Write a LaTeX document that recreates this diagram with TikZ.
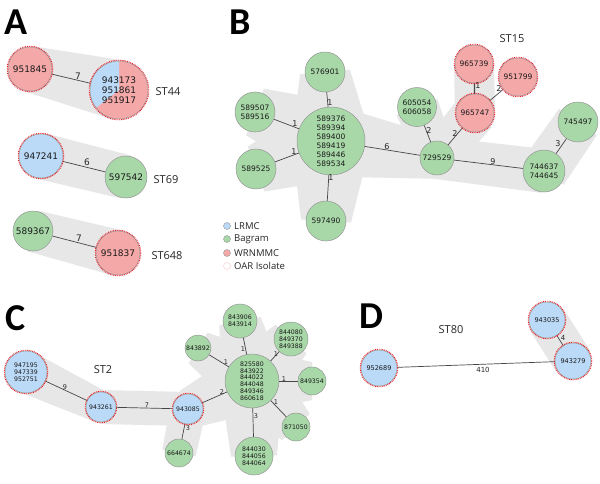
\documentclass[tikz,border=0pt]{standalone}
\usepackage{fontspec}
\setmainfont{DejaVu Sans}
\newfontfamily\osans{Open Sans}
\newfontfamily\pfont{Carlito}
\usetikzlibrary{calc,backgrounds}
\definecolor{lrmc}{RGB}{187,218,248}
\definecolor{bag}{RGB}{168,216,168}
\definecolor{wrn}{RGB}{245,168,168}
\definecolor{shadowgrey}{RGB}{231,231,231}
\definecolor{nborder}{RGB}{150,150,150}
\definecolor{oarred}{RGB}{235,30,40}
\definecolor{oarpink}{RGB}{250,200,200}
\definecolor{edgec}{RGB}{70,70,70}
\tikzset{
 nd/.style={circle, draw=nborder, line width=0.5pt, inner sep=0pt, align=center, text=black!90},
 lr/.style={nd, fill=lrmc},
 bg/.style={nd, fill=bag},
 wr/.style={nd, fill=wrn},
 fa/.style={font=\fontsize{9}{10}\selectfont},
 fb/.style={font=\fontsize{7.5}{9}\selectfont},
 fc/.style={font=\fontsize{6.2}{6.8}\selectfont},
 fd/.style={font=\fontsize{6.5}{7}\selectfont},
 edge/.style={draw=edgec, line width=0.7pt},
 ela/.style={inner sep=0pt, text=black!85, font=\fontsize{9}{9}\selectfont},
 elb/.style={inner sep=0pt, text=black!85, font=\fontsize{8}{8}\selectfont},
 elc/.style={inner sep=0pt, text=black!85, font=\fontsize{6.5}{6.5}\selectfont},
 eld/.style={inner sep=0pt, text=black!85, font=\fontsize{7}{7}\selectfont},
 stlab/.style={inner sep=0pt, font=\osans\fontsize{11}{12}\selectfont, text=black!85},
 leglab/.style={inner sep=0pt, anchor=west, font=\osans\fontsize{9.5}{10}\selectfont, text=black!85},
 legdot/.style={circle, draw=nborder, line width=0.4pt, minimum size=7pt, inner sep=0pt},
 panel/.style={inner sep=0pt, font=\pfont\bfseries\fontsize{38}{38}\selectfont},
 oarring/.style={draw=oarred, line width=0.9pt, dash pattern=on 0.9pt off 0.9pt},
}
% tapered shadow band between two node centres, half-widths #2 and #4
\newcommand{\band}[4]{%
 \fill[shadowgrey] ($(#1.center)!#2pt!90:(#3.center)$) -- ($(#3.center)!#4pt!-90:(#1.center)$) -- ($(#3.center)!#4pt!90:(#1.center)$) -- ($(#1.center)!#2pt!-90:(#3.center)$) -- cycle;}
\begin{document}
\begin{tikzpicture}[x=1pt,y=-1pt]
\useasboundingbox (0,0) rectangle (600,483);
% ---------- Panel A
\node[panel] (pA) at (16,22) {A};
\node[wr, fa, minimum size=44pt] (a1) at (30,69) {951845};
\node[wr, fa, minimum size=58pt, path picture={\fill[lrmc] (path picture bounding box.center) -- ++(90:32pt) arc[start angle=90, end angle=218, radius=32pt] -- cycle;}] (a2) at (119,90) {943173\\951861\\951917};
\node[lr, fa, minimum size=44pt] (a3) at (41,156) {947241};
\node[bg, fa, minimum size=42pt] (a4) at (126,177) {597542};
\node[bg, fa, minimum size=40pt] (a5) at (33,231) {589367};
\node[wr, fa, minimum size=44pt] (a6) at (118,253) {951837};
\draw[edge] (a1) -- (a2);
\draw[edge] (a3) -- (a4);
\draw[edge] (a5) -- (a6);
\node[ela] (la1) at (78,76) {7};
\node[ela] (la2) at (87,162) {6};
\node[ela] (la3) at (79,238) {7};
\node[stlab] (st44) at (168,92) {ST44};
\node[stlab] (st69) at (166,180) {ST69};
\node[stlab] (st648) at (167,256) {ST648};
% ---------- Panel B
\node[panel] (pB) at (240,22) {B};
\node[bg, fb, minimum size=68pt] (b0) at (331,141) {589376\\589394\\589400\\589419\\589446\\589534};
\node[bg, fb, minimum size=40pt] (b1) at (325,72) {576901};
\node[bg, fb, minimum size=40pt] (b2) at (255,112) {589507\\589516};
\node[bg, fb, minimum size=40pt] (b3) at (256,169) {589525};
\node[bg, fb, minimum size=40pt] (b4) at (326,221) {597490};
\node[bg, fb, minimum size=34pt] (b5) at (437,158) {729529};
\node[bg, fb, minimum size=42pt] (b6) at (544,171) {744637\\744645};
\node[bg, fb, minimum size=40pt] (b7) at (578,122) {745497};
\node[bg, fb, minimum size=39pt] (b8) at (417,107) {605054\\606058};
\node[wr, fb, minimum size=38pt] (b9) at (475,113) {965747};
\node[wr, fb, minimum size=38pt] (b10) at (474,64) {965739};
\node[wr, fb, minimum size=38pt] (b11) at (518,77) {951799};
\draw[edge] (b0) -- (b1);
\draw[edge] (b0) -- (b2);
\draw[edge] (b0) -- (b3);
\draw[edge] (b0) -- (b4);
\draw[edge] (b0) -- (b5);
\draw[edge] (b5) -- (b6);
\draw[edge] (b6) -- (b7);
\draw[edge] (b5) -- (b8);
\draw[edge] (b5) -- (b9);
\draw[edge, line width=1.3pt] (b9) -- (b10);
\draw[edge] (b9) -- (b11);
\node[elb] (lb1) at (330,103) {1};
\node[elb] (lb2) at (295,124) {1};
\node[elb] (lb3) at (294,152) {1};
\node[elb] (lb4) at (331,178) {1};
\node[elb] (lb5) at (387,147) {6};
\node[elb] (lb6) at (493,162) {9};
\node[elb] (lb7) at (558,144) {3};
\node[elb] (lb8) at (429,131) {2};
\node[elb] (lb9) at (455,134) {2};
\node[elb] (lb10) at (478,86) {1};
\node[elb] (lb11) at (499,89) {2};
\node[stlab] (st15) at (512,39) {ST15};
% legend
\node[legdot, fill=lrmc] (lg1) at (227,226) {};
\node[legdot, fill=bag] (lg2) at (227,239) {};
\node[legdot, fill=wrn] (lg3) at (227,253) {};
\node[legdot, draw=oarpink, fill=white] (lg4) at (227,266) {};
\node[leglab] (lt1) at (234,226) {LRMC};
\node[leglab] (lt2) at (234,239) {Bagram};
\node[leglab] (lt3) at (234,253) {WRNMMC};
\node[leglab] (lt4) at (234,266) {OAR Isolate};
% ---------- Panel C
\node[panel] (pC) at (16,318) {C};
\node[lr, fc, minimum size=42pt] (c1) at (26,372) {947195\\947339\\952751};
\node[lr, fc, minimum size=30pt] (c2) at (101,407) {943261};
\node[lr, fc, minimum size=30pt] (c3) at (188,409) {943085};
\node[bg, fc, minimum size=28pt] (c4) at (179,453) {664674};
\node[bg, fc, minimum size=54pt] (c0) at (252,381) {825580\\843922\\844022\\844048\\849346\\860618};
\node[bg, fc, minimum size=26pt] (c5) at (198,348) {843892};
\node[bg, fc, minimum size=34pt] (c6) at (240,321) {843906\\843914};
\node[bg, fc, minimum size=34pt] (c7) at (291,339) {844080\\849370\\849388};
\node[bg, fc, minimum size=28pt] (c8) at (312,381) {849354};
\node[bg, fc, minimum size=28pt] (c9) at (296,427) {871050};
\node[bg, fc, minimum size=38pt] (c10) at (254,456) {844030\\844056\\844064};
\draw[edge] (c1) -- (c2);
\draw[edge] (c2) -- (c3);
\draw[edge] (c3) -- (c4);
\draw[edge] (c3) -- (c0);
\draw[edge] (c0) -- (c5);
\draw[edge] (c0) -- (c6);
\draw[edge] (c0) -- (c7);
\draw[edge] (c0) -- (c8);
\draw[edge] (c0) -- (c9);
\draw[edge] (c0) -- (c10);
\node[elc] (lc1) at (65,387) {9};
\node[elc] (lc2) at (147,405) {7};
\node[elc] (lc3) at (188,428) {3};
\node[elc] (lc4) at (222,392) {2};
\node[elc] (lc5) at (226,362) {1};
\node[elc] (lc6) at (243,349) {1};
\node[elc] (lc7) at (276,354) {1};
\node[elc] (lc8) at (284,379) {1};
\node[elc] (lc9) at (276,402) {1};
\node[elc] (lc10) at (256,416) {3};
\node[stlab] (st2) at (103,370) {ST2};
% ---------- Panel D
\node[panel] (pD) at (371,316) {D};
\node[lr, fd, minimum size=36pt] (d1) at (379,368) {952689};
\node[lr, fd, minimum size=36pt] (d2) at (573,361) {943279};
\node[lr, fd, minimum size=36pt] (d3) at (547,320) {943035};
\draw[edge] (d1) -- (d2);
\draw[edge] (d3) -- (d2);
\node[eld] (ld1) at (483,370) {410};
\node[eld] (ld2) at (563,338) {4};
\node[stlab] (st80) at (451,330) {ST80};
% OAR rings
\foreach \n/\r in {a1/22,a2/29,a3/22,a6/22,b9/19,b10/19,b11/19,c1/21,c2/15,c3/15,d1/18,d2/18,d3/18}
  \draw[oarring] (\n.center) circle[radius=\r pt+0.8pt];
% ---------- shadows
\begin{scope}[on background layer]
\fill[white] (0,0) rectangle (600,483);
\band{a1}{23}{a2}{30}
\band{a3}{23}{a4}{22}
\band{a5}{21}{a6}{23}
\fill[shadowgrey] (b0.center) circle[radius=37pt];
\band{b0}{40}{b1}{25}
\band{b0}{40}{b2}{25}
\band{b0}{40}{b3}{24}
\band{b0}{40}{b4}{25}
\band{b0}{36}{b5}{21}
\fill[shadowgrey] (b5.center) circle[radius=21pt];
\band{b5}{21}{b6}{22}
\band{b6}{24}{b7}{23}
\band{b5}{19}{b8}{22}
\band{b5}{20}{b9}{22}
\band{b9}{20}{b10}{20}
\band{c1}{21}{c2}{16}
\band{c2}{17}{c3}{17}
\fill[shadowgrey] (c3.center) circle[radius=17pt];
\band{c3}{18}{c4}{17}
\fill[shadowgrey] (c0.center) circle[radius=30pt];
\band{c3}{20}{c0}{32}
\band{c0}{32}{c5}{18}
\band{c0}{32}{c6}{21}
\band{c0}{32}{c7}{21}
\band{c0}{32}{c8}{19}
\band{c0}{32}{c9}{19}
\band{c0}{32}{c10}{23}
\band{d3}{20}{d2}{20}
\end{scope}
\end{tikzpicture}
\end{document}
